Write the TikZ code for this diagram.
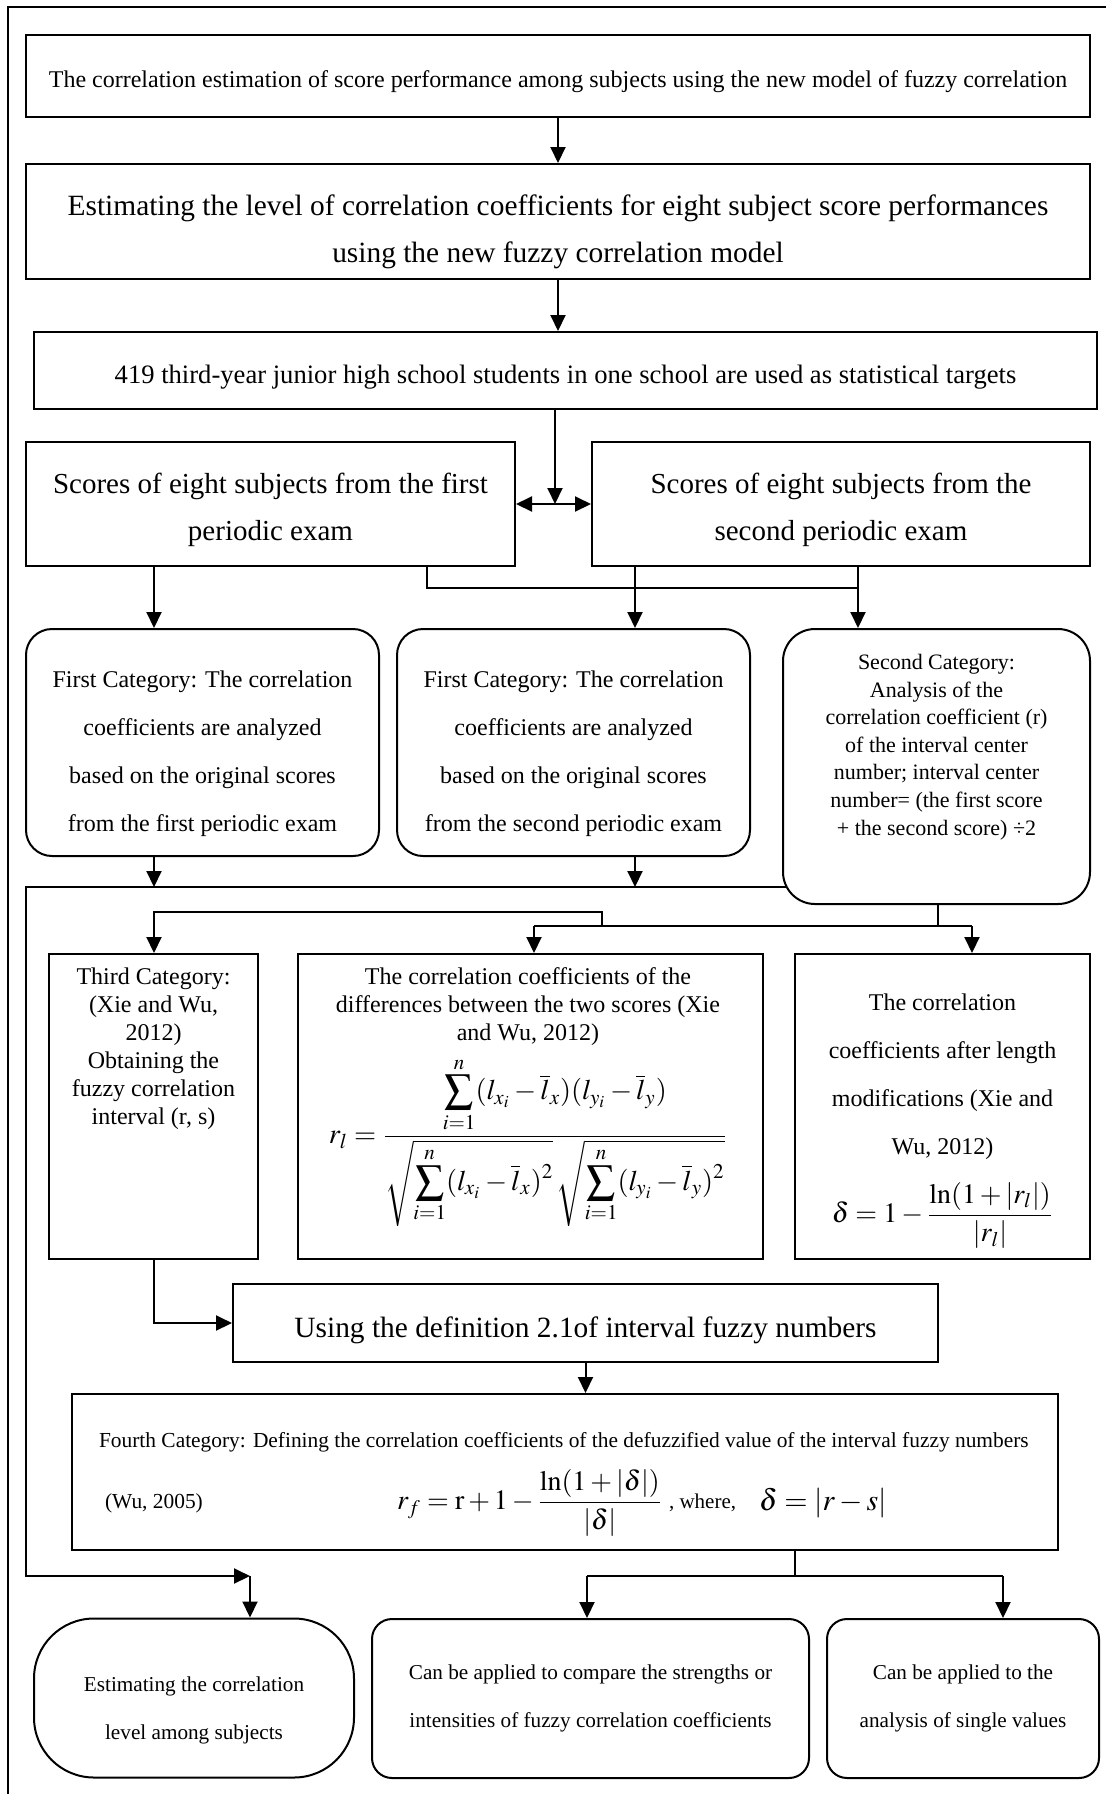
\documentclass[tikz,border=0pt]{standalone}
\usepackage{amsmath}
\usepackage{mathptmx}
\usepackage{fontspec}
\setmainfont{Liberation Serif}
\usetikzlibrary{arrows.meta, positioning}

\newcommand{\fs}[2]{\fontsize{#1}{#2}\selectfont}

\begin{document}
\begin{tikzpicture}[x=0.5pt, y=-0.5pt,
    box/.style 2 args={draw, line width=1pt, minimum width=#1, minimum height=#2, inner sep=0pt, align=center},
    txt/.style={align=center, inner sep=0pt},
    arr/.style={line width=1pt, -{Triangle[width=7.5pt,length=8pt]}},
    dbl/.style={line width=1pt, {Triangle[width=7.5pt,length=8pt]}-{Triangle[width=7.5pt,length=8pt]}},
    link/.style={line width=1pt}]
    \useasboundingbox (0,0) rectangle (1106,1794);
    % Frame
    \draw[line width=1pt] (8,1794) -- (8,7) -- (1106,7);

    % Top of the chart
    \node[box={532pt}{41pt}] (top) at (558,76) {};
    \node[txt, font=\fs{12}{14}] (toptxt) at (558,82) {The correlation estimation of score performance among subjects using the new model of fuzzy correlation};
    \node[box={532pt}{57.5pt}] (level) at (558,221.5) {};
    \node[txt, font=\fs{14.7}{23.5}] (leveltxt) at (558,231.5) {Estimating the level of correlation coefficients for eight subject score performances\\ using the new fuzzy correlation model};
    \node[box={531.5pt}{38.5pt}] (students) at (565.5,370.5) {};
    \node[txt, font=\fs{13.3}{15}] (studentstxt) at (565.5,377) {419 third-year junior high school students in one school are used as statistical targets};
    \node[box={244.5pt}{62pt}] (first) at (270.5,504) {};
    \node[txt, font=\fs{14.5}{23.5}] (firsttxt) at (270.5,510) {Scores of eight subjects from the first\\ periodic exam};
    \node[box={249pt}{62pt}] (second) at (841,504) {};
    \node[txt, font=\fs{14.5}{23.5}] (secondtxt) at (841,510) {Scores of eight subjects from the\\ second periodic exam};

    % First and second category
    \node[box={176.5pt}{113.5pt}, rounded corners=13pt] (catA) at (202.5,742.5) {};
    \node[txt, font=\fs{12}{24}] (catAtxt) at (202.5,754) {First Category: The correlation\\ coefficients are analyzed\\ based on the original scores\\ from the first periodic exam};
    \node[box={176.5pt}{113.5pt}, rounded corners=13pt] (catB) at (573.5,742.5) {};
    \node[txt, font=\fs{12}{24}] (catBtxt) at (573.5,754) {First Category: The correlation\\ coefficients are analyzed\\ based on the original scores\\ from the second periodic exam};
    \node[box={153.5pt}{137.5pt}, rounded corners=16pt] (catC) at (936.5,766.5) {};
    \node[txt, font=\fs{11}{13.8}] (catCtxt) at (936.5,747) {Second Category:\\ Analysis of the\\ correlation coefficient (r)\\ of the interval center\\ number; interval center\\ number= (the first score\\ + the second score) ÷2};

    % Third category
    \node[box={104.5pt}{152.5pt}] (catD) at (153.5,1106.5) {};
    \node[txt, font=\fs{12}{14}] (catDtxt) at (153.5,1048.5) {Third Category:\\ (Xie and Wu,\\ 2012)\\ Obtaining the\\ fuzzy correlation\\ interval (r, s)};
    \node[box={232.5pt}{152.5pt}] (diff) at (530.5,1106.5) {};
    \node[txt, font=\fs{12}{14}] (difftxt) at (528,1097) {The correlation coefficients of the\\ differences between the two scores (Xie\\ and Wu, 2012)\\[5pt]
      {\fs{14.2}{14}$\displaystyle r_l=\frac{\displaystyle\sum_{i=1}^{n}(l_{x_i}-\overline{l}_x)(l_{y_i}-\overline{l}_y)}{\sqrt{\displaystyle\sum_{i=1}^{n}(l_{x_i}-\overline{l}_x)^2}\,\sqrt{\displaystyle\sum_{i=1}^{n}(l_{y_i}-\overline{l}_y)^2}}$}};
    \node[box={147.5pt}{152.5pt}] (len) at (942.5,1106.5) {};
    \node[txt, font=\fs{12}{24}] (lentxt) at (942.5,1121) {The correlation\\ coefficients after length\\ modifications (Xie and\\ Wu, 2012)\\[10pt]
      {\fs{14}{14}$\displaystyle \delta=1-\frac{\ln(1+|r_l|)}{|r_l|}$}};

    % Fourth category
    \node[box={352.5pt}{39pt}] (defin) at (585.5,1323) {};
    \node[txt, font=\fs{14.7}{16}] (defintxt) at (585.5,1330) {Using the definition 2.1of interval fuzzy numbers};
    \node[box={493pt}{78pt}] (fourth) at (565,1472) {};
    \node[anchor=west, font=\fs{10.7}{12}] (fourthtxt) at (92,1442) {Fourth Category: Defining the correlation coefficients of the defuzzified value of the interval fuzzy numbers};
    \node[anchor=west, font=\fs{10.7}{12}] (wu) at (98,1503) {(Wu, 2005)};
    \node[anchor=west, font=\fs{14}{14}] (rf) at (390,1503) {$\displaystyle r_f=\mathrm{r}+1-\frac{\ln(1+|\delta|)}{|\delta|}$};
    \node[anchor=west, font=\fs{10.5}{12}] (where) at (662,1503) {, where,};
    \node[anchor=west, font=\fs{15}{15}] (dlt) at (752,1503) {$\delta=|r-s|$};

    % Results
    \node[box={160pt}{79.5pt}, rounded corners=30pt] (estim) at (194,1698) {};
    \node[txt, font=\fs{10.6}{24}] (estimtxt) at (194,1710) {Estimating the correlation\\ level among subjects};
    \node[box={218.5pt}{79.5pt}, rounded corners=10pt, font=\fs{10.6}{24}] (compare) at (590.5,1698.5) {Can be applied to compare the strengths or\\ intensities of fuzzy correlation coefficients};
    \node[box={136pt}{79.5pt}, rounded corners=10pt, font=\fs{10.6}{24}] (single) at (963,1698.5) {Can be applied to the\\ analysis of single values};

    % Branch points
    \coordinate (xa) at (154,0);
    \coordinate (xb) at (635,0);
    \coordinate (xc) at (858,0);
    \coordinate (jn) at (858,588);
    \coordinate (mid) at (555,504);
    \coordinate (busL) at (26,887);
    \coordinate (busR) at (787,887);
    \coordinate (estT) at (250,1576);
    \coordinate (brC) at (938,926);
    \coordinate (xd) at (534,926);
    \coordinate (xf) at (972,926);
    \coordinate (up) at (602,926);
    \coordinate (kn) at (154,912);
    \coordinate (fb) at (795,1576);
    \coordinate (xj) at (587,1576);
    \coordinate (xk) at (1003,1576);

    % Connectors
    \draw[arr] (top) -- (level);
    \draw[arr] (level.south) -- (level.south |- students.north);
    \draw[arr] (students.south -| mid) -- (mid);
    \draw[dbl] (first) -- (second);
    \draw[arr] (first.south -| xa) -- (catA.north -| xa);
    \draw[link] (first.south -| 427,0) |- (jn);
    \draw[arr] (second.south -| xb) -- (catB.north -| xb);
    \draw[arr] (second.south -| xc) -- (catC.north -| xc);
    \draw[arr] (catA.south -| xa) -- (busL -| xa);
    \draw[arr] (catB.south -| xb) -- (busL -| xb);
    \draw[arr] (busR) -- (busL) |- (estT);
    \draw[arr] (estT) -- (estim.north -| estT);
    \draw[link] (catC.south -| brC) -- (brC);
    \draw[link] (xd) -- (xf);
    \draw[arr] (xd) -- (diff.north -| xd);
    \draw[arr] (xf) -- (len.north -| xf);
    \draw[arr] (up) |- (kn) -- (catD.north -| kn);
    \draw[arr] (catD.south -| kn) |- (defin.west);
    \draw[arr] (defin.south) -- (defin.south |- fourth.north);
    \draw[link] (fourth.south -| fb) -- (fb);
    \draw[link] (xj) -- (xk);
    \draw[arr] (xj) -- (compare.north -| xj);
    \draw[arr] (xk) -- (single.north -| xk);
\end{tikzpicture}
\end{document}
